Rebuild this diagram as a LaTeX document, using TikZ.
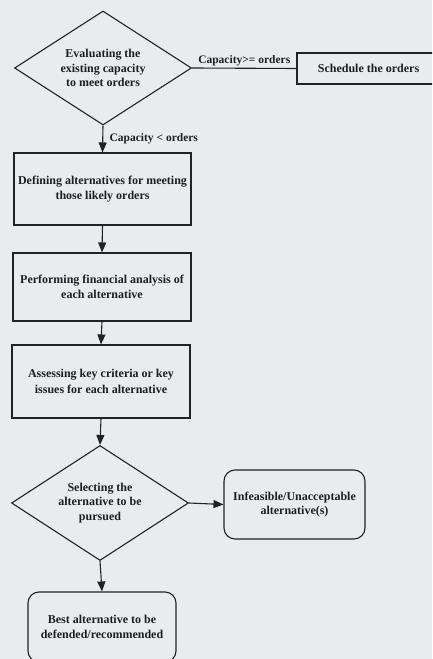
\documentclass[tikz,border=0pt]{standalone}
\usepackage{fontspec}
\setmainfont{Liberation Serif}
\usetikzlibrary{shapes.geometric,arrows.meta}

\begin{document}
\begin{tikzpicture}[x=1pt,y=1pt,
  every node/.style={text=textColor,font=\bfseries\fontsize{12}{14.5}\selectfont},
  decision/.style={draw=drawColor,line width=1.1pt,diamond,aspect=1.55,inner sep=0pt,align=center,minimum width=177pt,minimum height=114pt},
  process/.style={draw=drawColor,line width=1.1pt,rectangle,inner sep=0pt,align=center},
  outcome/.style={process,rounded corners=11pt},
  link/.style={draw=drawColor,line width=1.1pt},
  flow/.style={link,-{Triangle[length=10pt,width=8pt]}},
  edgelabel/.style={font=\bfseries\fontsize{11.5}{13}\selectfont}]
\definecolor{fillColor}{RGB}{233,236,238}
\definecolor{drawColor}{RGB}{34,34,34}
\definecolor{textColor}{RGB}{30,30,30}

\path[use as bounding box,fill=fillColor] (0,0) rectangle (432,659);
\begin{scope}
\path[clip] (0,0) rectangle (432,659);

% first decision and its exit
\node[decision] (eval) at (103,591) {Evaluating the\\existing capacity\\to meet orders};
\node[process,minimum width=143pt,minimum height=31pt] (sched) at (368.5,590.5) {Schedule the orders};

% main column
\node[process,minimum width=177pt,minimum height=72pt] (define) at (102.5,470) {Defining alternatives for meeting\\those likely orders};
\node[process,minimum width=178pt,minimum height=68pt] (perform) at (102,372) {Performing financial analysis of\\each alternative};
\node[process,minimum width=178pt,minimum height=73pt,font=\bfseries\fontsize{12}{16.5}\selectfont] (assess) at (101,277.5) {Assessing key criteria or key\\issues for each alternative};

% second decision
\node[decision,minimum height=115pt] (select) at (100,156) {Selecting the\\alternative to be\\pursued};
\node[outcome,minimum width=141pt,minimum height=69pt] (infeas) at (294.5,154.5) {Infeasible/Unacceptable\\alternative(s)};
\node[outcome,minimum width=148pt,minimum height=70pt] (best) at (102,32) {Best alternative to be\\defended/recommended};

% connectors
\draw[link] (eval.east) -- node[above,edgelabel,inner sep=2pt] {Capacity>= orders} (sched.west);
\draw[flow] (eval.south) -- node[right,edgelabel,xshift=3pt] {Capacity < orders} (define.north);
\draw[flow] (define.south) -- (perform.north);
\draw[flow] (perform.south) -- (assess.north);
\draw[flow] (assess.south) -- (select.north);
\draw[flow] (select.east) -- (infeas.west);
\draw[flow] (select.south) -- (best.north);
\end{scope}
\end{tikzpicture}
\end{document}
